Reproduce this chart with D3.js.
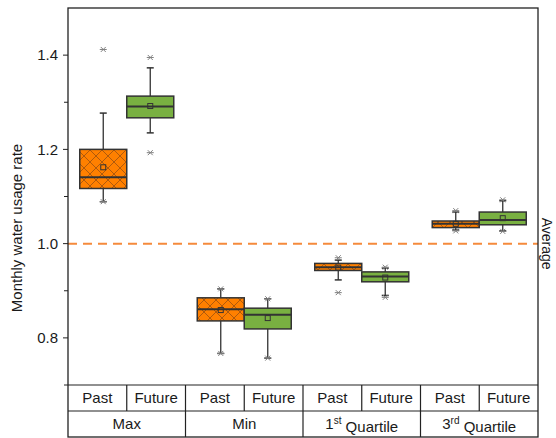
<!DOCTYPE html>
<html><head><meta charset="utf-8">
<script src="https://cdn.jsdelivr.net/npm/d3@7"></script>
<style>body{margin:0;background:#fff}svg{display:block}text{font-family:"Liberation Sans",Arial,sans-serif;fill:#1a1a1a}</style>
</head><body><svg id="c" width="556" height="438"></svg>
<script>
const categories = ["Max","Min","1st Quartile","3rd Quartile"];
const groups = ["Past","Future"];
const yTicksMajor = [0.8,1.0,1.2,1.4];
const yTicksMinor = [0.7,0.9,1.1,1.3];
const averageValue = 1.0;
// Past series
const pastQ1     = [1.117,0.836,0.943,1.034];
const pastMedian = [1.141,0.861,0.950,1.042];
const pastQ3     = [1.200,0.885,0.958,1.048];
const pastMean   = [1.162,0.859,0.949,1.042];
const pastWLow   = [1.089,0.767,0.923,1.029];
const pastWHigh  = [1.277,0.904,0.965,1.067];
const pastMin    = [1.089,0.767,0.896,1.027];
const pastMax    = [1.412,0.904,0.970,1.070];
// Future series
const futQ1      = [1.267,0.819,0.919,1.040];
const futMedian  = [1.291,0.849,0.930,1.050];
const futQ3      = [1.313,0.863,0.940,1.067];
const futMean    = [1.292,0.842,0.928,1.054];
const futWLow    = [1.235,0.757,0.890,1.027];
const futWHigh   = [1.373,0.883,0.948,1.091];
const futMin     = [1.193,0.757,0.886,1.026];
const futMax     = [1.395,0.883,0.950,1.093];

const svg = d3.select("#c");
const L=68,R=538,T=8,B=385,row1=411,row2=437;
const x = d3.scaleBand().domain(categories).range([L,R]).padding(0);
const y = d3.scaleLinear().domain([0.7,1.5]).range([B,T]);
const bw = x.bandwidth();
const boxW = bw*0.4;

const defs = svg.append("defs");
const pat = defs.append("pattern").attr("id","hatch").attr("patternUnits","userSpaceOnUse")
  .attr("width",12).attr("height",12);
pat.append("rect").attr("width",12).attr("height",12).attr("fill","#FF8000");
pat.append("path").attr("d","M0,0L12,12M12,0L0,12M-6,6L6,18M6,-6L18,6M6,18L18,6M-6,6L6,-6")
  .attr("stroke","#9a5010").attr("stroke-width",0.8).attr("fill","none");

// y axis ticks
const ax = svg.append("g");
yTicksMajor.forEach(v=>{
  ax.append("line").attr("x1",L-5).attr("x2",L).attr("y1",y(v)).attr("y2",y(v)).attr("stroke","#222");
  ax.append("text").attr("x",L-10).attr("y",y(v)).attr("dy","0.35em").attr("text-anchor","end")
    .attr("font-size",15).text(d3.format(".1f")(v));
});
yTicksMinor.forEach(v=>{
  ax.append("line").attr("x1",L-4).attr("x2",L).attr("y1",y(v)).attr("y2",y(v)).attr("stroke","#222");
});
svg.append("text").attr("transform","translate(22,228) rotate(-90)").attr("text-anchor","middle")
  .attr("font-size",15).text("Monthly water usage rate");

// average line
svg.append("line").attr("x1",L).attr("x2",R).attr("y1",y(averageValue)).attr("y2",y(averageValue))
  .attr("stroke","#F58A3C").attr("stroke-width",2).attr("stroke-dasharray","9,6");
svg.append("text").attr("transform",`translate(542,${y(averageValue)}) rotate(90)`).attr("text-anchor","middle")
  .attr("font-size",14).text("Average");

function drawBoxes(q1,med,q3,mean,wl,wh,mn,mx,offset,fill){
  categories.forEach((c,i)=>{
    const cx = x(c)+bw/2 + offset;
    const g = svg.append("g");
    const mk = v=>{
      const yy=y(v);
      g.append("path").attr("d",`M${cx-2.5},${yy-2.5}L${cx+2.5},${yy+2.5}M${cx+2.5},${yy-2.5}L${cx-2.5},${yy+2.5}`)
        .attr("stroke","#808080").attr("stroke-width",1);
      g.append("line").attr("x1",cx-3.5).attr("x2",cx+3.5).attr("y1",yy).attr("y2",yy)
        .attr("stroke","#808080").attr("stroke-width",1);
    };
    g.append("line").attr("x1",cx).attr("x2",cx).attr("y1",y(wh[i])).attr("y2",y(q3[i])).attr("stroke","#333").attr("stroke-width",1.3);
    g.append("line").attr("x1",cx).attr("x2",cx).attr("y1",y(q1[i])).attr("y2",y(wl[i])).attr("stroke","#333").attr("stroke-width",1.3);
    [wh[i],wl[i]].forEach(v=>g.append("line").attr("x1",cx-3.5).attr("x2",cx+3.5).attr("y1",y(v)).attr("y2",y(v)).attr("stroke","#333").attr("stroke-width",1.5));
    g.append("rect").attr("x",cx-boxW/2).attr("width",boxW).attr("y",y(q3[i])).attr("height",y(q1[i])-y(q3[i]))
      .attr("fill",fill).attr("stroke","#333").attr("stroke-width",1.5);
    g.append("line").attr("x1",cx-boxW/2).attr("x2",cx+boxW/2).attr("y1",y(med[i])).attr("y2",y(med[i])).attr("stroke","#333").attr("stroke-width",2);
    g.append("rect").attr("x",cx-2.5).attr("y",y(mean[i])-2.5).attr("width",5).attr("height",5)
      .attr("fill","none").attr("stroke","#333").attr("stroke-width",1);
    mk(mn[i]); mk(mx[i]);
  });
}
drawBoxes(pastQ1,pastMedian,pastQ3,pastMean,pastWLow,pastWHigh,pastMin,pastMax,-boxW/2,"url(#hatch)");
drawBoxes(futQ1,futMedian,futQ3,futMean,futWLow,futWHigh,futMin,futMax,boxW/2,"#79B041");

// frame
svg.append("rect").attr("x",L).attr("y",T).attr("width",R-L).attr("height",row2-T)
  .attr("fill","none").attr("stroke","#222").attr("stroke-width",1.3);
// table
const tb = svg.append("g").attr("stroke","#222").attr("stroke-width",1.2);
tb.append("line").attr("x1",L).attr("x2",R).attr("y1",B).attr("y2",B);
tb.append("line").attr("x1",L).attr("x2",R).attr("y1",row1).attr("y2",row1);
categories.forEach((c,i)=>{
  if(i>0) tb.append("line").attr("x1",x(c)).attr("x2",x(c)).attr("y1",B).attr("y2",row2);
  tb.append("line").attr("x1",x(c)+bw/2).attr("x2",x(c)+bw/2).attr("y1",B).attr("y2",row1);
  groups.forEach((gname,j)=>{
    svg.append("text").attr("x",x(c)+bw/4+j*bw/2).attr("y",(B+row1)/2).attr("dy","0.36em")
      .attr("text-anchor","middle").attr("font-size",15).text(gname);
  });
  const t = svg.append("text").attr("x",x(c)+bw/2).attr("y",(row1+row2)/2).attr("dy","0.36em")
    .attr("text-anchor","middle").attr("font-size",15);
  const m = c.match(/^(\d)(st|nd|rd|th) (.*)$/);
  if(m){
    t.append("tspan").text(m[1]);
    t.append("tspan").attr("font-size",10).attr("dy","-0.5em").text(m[2]);
    t.append("tspan").attr("dy","0.5em").text(" "+m[3]);
  } else t.text(c);
});
</script></body></html>
